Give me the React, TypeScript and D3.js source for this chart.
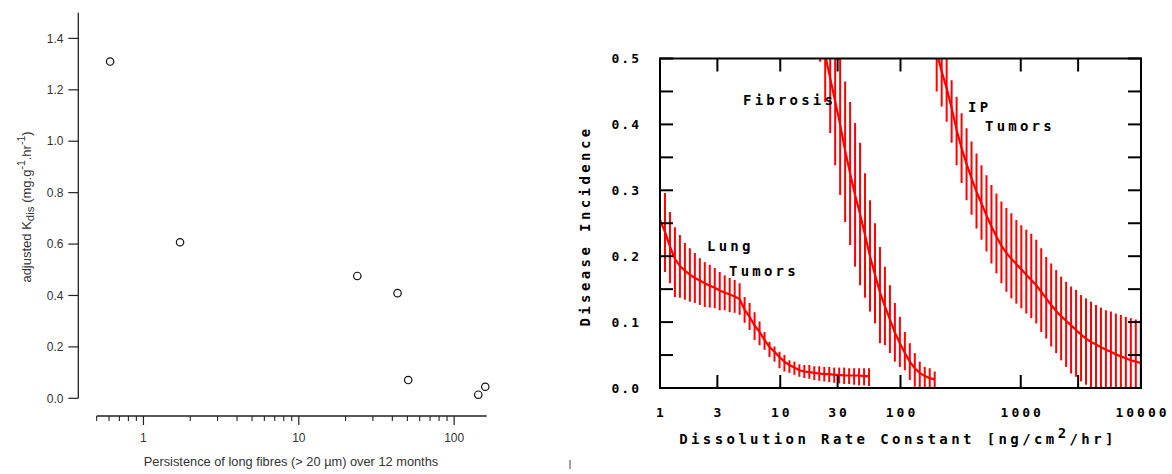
import React from 'react';
import * as d3 from 'd3';

// ---------- Left chart data ----------
const persistence = [0.61, 1.72, 23.8, 43.2, 50.6, 143, 158.6];
const kdis = [1.31, 0.607, 0.476, 0.409, 0.071, 0.014, 0.045];
const leftYTicks = [0, 0.2, 0.4, 0.6, 0.8, 1.0, 1.2, 1.4];
const leftXMajor = [1, 10, 100];
const leftXMinor = [0.5, 0.6, 0.7, 0.8, 0.9, 2, 3, 4, 5, 6, 7, 8, 9, 20, 30, 40, 50, 60, 70, 80, 90];

// ---------- Right chart data ----------
const lungX = [1, 1.1, 1.21, 1.331, 1.464, 1.611, 1.772, 1.949, 2.144, 2.358, 2.594, 2.853, 3.138, 3.452, 3.797, 4.177, 4.595, 5.054, 5.56, 6.116, 6.727, 7.4, 8.14, 8.954, 9.85, 10.83, 11.92, 13.11, 14.42, 15.86, 17.45, 19.19, 21.11, 23.23, 25.55, 28.1, 30.91, 34.0, 37.4, 41.14, 45.26, 49.79, 54.76];
const lungMean = [0.255, 0.237, 0.215, 0.196, 0.185, 0.178, 0.172, 0.167, 0.163, 0.159, 0.155, 0.152, 0.148, 0.145, 0.142, 0.139, 0.135, 0.119, 0.108, 0.095, 0.085, 0.073, 0.062, 0.055, 0.047, 0.04, 0.035, 0.031, 0.027, 0.025, 0.024, 0.023, 0.022, 0.021, 0.021, 0.02, 0.02, 0.019, 0.019, 0.019, 0.019, 0.018, 0.018];
const lungLow = [0.194, 0.176, 0.159, 0.138, 0.137, 0.134, 0.131, 0.129, 0.126, 0.123, 0.122, 0.121, 0.118, 0.118, 0.115, 0.114, 0.111, 0.099, 0.088, 0.073, 0.065, 0.058, 0.047, 0.04, 0.03, 0.025, 0.023, 0.02, 0.017, 0.015, 0.014, 0.012, 0.011, 0.01, 0.009, 0.008, 0.007, 0.006, 0.006, 0.005, 0.004, 0.004, 0.003];
const lungHigh = [0.326, 0.296, 0.267, 0.244, 0.232, 0.22, 0.212, 0.205, 0.197, 0.191, 0.187, 0.182, 0.176, 0.171, 0.167, 0.164, 0.159, 0.138, 0.129, 0.115, 0.101, 0.085, 0.07, 0.063, 0.055, 0.05, 0.042, 0.04, 0.036, 0.035, 0.035, 0.033, 0.033, 0.032, 0.032, 0.031, 0.031, 0.031, 0.03, 0.03, 0.03, 0.03, 0.03];

const fibX = [21.5, 23.65, 26.02, 28.62, 31.48, 34.63, 38.09, 41.9, 46.09, 50.7, 55.77, 61.34, 67.48, 74.23, 81.65, 89.81, 98.8, 108.7, 119.5, 131.5, 144.6, 159.1, 175.0, 192.5];
const fibMean = [0.56, 0.505, 0.47, 0.435, 0.4, 0.36, 0.326, 0.293, 0.264, 0.232, 0.2, 0.172, 0.145, 0.124, 0.104, 0.084, 0.068, 0.053, 0.04, 0.03, 0.023, 0.018, 0.015, 0.013];
const fibLow = [0.495, 0.434, 0.387, 0.338, 0.293, 0.252, 0.217, 0.184, 0.156, 0.137, 0.116, 0.098, 0.068, 0.065, 0.053, 0.04, 0.032, 0.027, 0.012, 0.002, -0.005, -0.01, -0.01, -0.005];
const fibHigh = [0.62, 0.58, 0.555, 0.53, 0.505, 0.465, 0.434, 0.402, 0.372, 0.326, 0.285, 0.25, 0.214, 0.184, 0.156, 0.129, 0.108, 0.085, 0.068, 0.053, 0.04, 0.032, 0.03, 0.025];

const ipX = [200, 220, 242, 266.2, 292.8, 322.1, 354.3, 389.7, 428.7, 471.6, 518.7, 570.6, 627.7, 690.5, 759.5, 835.4, 919.0, 1010.9, 1112.0, 1223.2, 1345.5, 1480.0, 1628.0, 1790.8, 1969.9, 2166.9, 2383.6, 2621.9, 2884.1, 3172.5, 3489.8, 3838.8, 4222.6, 4644.9, 5109.4, 5620.3, 6182.4, 6800.6, 7480.7, 8228.7, 9051.6, 9956.8];
const ipMean = [0.51, 0.48, 0.455, 0.425, 0.392, 0.364, 0.34, 0.318, 0.298, 0.28, 0.262, 0.245, 0.23, 0.216, 0.205, 0.196, 0.188, 0.18, 0.172, 0.164, 0.156, 0.146, 0.136, 0.126, 0.117, 0.109, 0.102, 0.095, 0.088, 0.081, 0.075, 0.07, 0.066, 0.062, 0.058, 0.055, 0.051, 0.048, 0.045, 0.042, 0.04, 0.038];
const ipLow = [0.45, 0.427, 0.404, 0.372, 0.338, 0.311, 0.285, 0.263, 0.242, 0.225, 0.207, 0.189, 0.174, 0.159, 0.146, 0.136, 0.128, 0.121, 0.113, 0.106, 0.098, 0.085, 0.075, 0.063, 0.053, 0.042, 0.032, 0.022, 0.017, 0.01, 0.005, -0.002, -0.006, -0.01, -0.012, -0.014, -0.016, -0.018, -0.02, -0.022, -0.024, -0.026];
const ipHigh = [0.57, 0.54, 0.515, 0.467, 0.442, 0.417, 0.394, 0.374, 0.356, 0.338, 0.323, 0.308, 0.295, 0.283, 0.273, 0.265, 0.255, 0.247, 0.24, 0.234, 0.225, 0.212, 0.199, 0.189, 0.179, 0.169, 0.161, 0.154, 0.149, 0.141, 0.136, 0.131, 0.126, 0.122, 0.118, 0.116, 0.113, 0.111, 0.108, 0.106, 0.104, 0.103];

const rightYTicks = [0, 0.05, 0.1, 0.15, 0.2, 0.25, 0.3, 0.35, 0.4, 0.45, 0.5];
const rightYLabels = [0, 0.1, 0.2, 0.3, 0.4, 0.5];
const rightXTicks = [3, 10, 30, 100, 1000, 3000];
const rightXLabels = [1, 3, 10, 30, 100, 1000, 10000];

const RED = '#ff0000';
const MONO = '"DejaVu Sans Mono", monospace';
const SANS = '"Liberation Sans", Arial, sans-serif';

function Series({ xs, mean, lo, hi, x, y }: any) {
  const line = d3.line<number>().x((_, i) => x(xs[i])).y((d) => y(d));
  return (
    <g>
      {xs.map((v: number, i: number) => (
        <line key={i} x1={x(v)} x2={x(v)} y1={y(lo[i])} y2={y(hi[i])} stroke={RED} strokeWidth={2} />
      ))}
      <path d={line(mean) || ''} fill="none" stroke={RED} strokeWidth={2.2} />
    </g>
  );
}

export default function App() {
  // left chart scales
  const xL = d3.scaleLog().domain([0.5, 162]).range([96.7, 486.7]);
  const yL = d3.scaleLinear().domain([0, 1.5]).range([398.3, 12.7]);
  const axisL = '#222';
  const textL = '#333';

  // right chart scales
  const left = 660, right = 1141, top = 58.5, bottom = 388;
  const xR = d3.scaleLog().domain([1, 10000]).range([left, right]);
  const yR = d3.scaleLinear().domain([0, 0.5]).range([bottom, top]);
  const tl = 13;

  return (
    <div style={{ position: 'absolute', left: 0, top: 0 }}>
      <svg width={1172} height={474} style={{ display: 'block', background: '#fff' }}>
        <defs>
          <clipPath id="plotclip">
            <rect x={left} y={top} width={right - left} height={bottom - top} />
          </clipPath>
        </defs>

        {/* ===== Left chart ===== */}
        <g>
          <line x1={78.3} x2={78.3} y1={yL(1.5)} y2={yL(0)} stroke={axisL} strokeWidth={1.3} />
          {leftYTicks.map((t) => (
            <g key={t}>
              <line x1={68.3} x2={78.3} y1={yL(t)} y2={yL(t)} stroke={axisL} strokeWidth={1.2} />
              <text x={63.5} y={yL(t) + 4.2} textAnchor="end" fontFamily={SANS} fontSize={12} fill={textL}>
                {t.toFixed(1)}
              </text>
            </g>
          ))}
          <text transform="translate(31,207) rotate(-90)" textAnchor="middle" fontFamily={SANS} fontSize={13} fill={textL}>
            adjusted K<tspan fontSize={11.5} dy={3}>dis</tspan>
            <tspan dy={-3}> (mg.g</tspan>
            <tspan fontSize={10.5} dy={-6}>-1</tspan>
            <tspan dy={6}>.hr</tspan>
            <tspan fontSize={10.5} dy={-6}>-1</tspan>
            <tspan dy={6}>)</tspan>
          </text>

          <line x1={xL(0.5)} x2={xL(162)} y1={416} y2={416} stroke={axisL} strokeWidth={1.3} />
          {leftXMinor.map((t) => (
            <line key={t} x1={xL(t)} x2={xL(t)} y1={416} y2={421} stroke={axisL} strokeWidth={1.1} />
          ))}
          {leftXMajor.map((t) => (
            <g key={t}>
              <line x1={xL(t)} x2={xL(t)} y1={416} y2={425} stroke={axisL} strokeWidth={1.2} />
              <text x={xL(t)} y={442} textAnchor="middle" fontFamily={SANS} fontSize={12} fill={textL}>
                {t}
              </text>
            </g>
          ))}
          <text x={291} y={466} textAnchor="middle" fontFamily={SANS} fontSize={12.8} fill={textL}>
            Persistence of long fibres (&gt; 20 µm) over 12 months
          </text>

          {persistence.map((p, i) => (
            <circle key={i} cx={xL(p)} cy={yL(kdis[i])} r={3.7} fill="#fff" stroke="#111" strokeWidth={1.2} />
          ))}
          <line x1={570} x2={570} y1={460} y2={469} stroke="#444" strokeWidth={1} />
        </g>

        {/* ===== Right chart ===== */}
        <g>
          <g clipPath="url(#plotclip)">
            <Series xs={lungX} mean={lungMean} lo={lungLow} hi={lungHigh} x={xR} y={yR} />
            <Series xs={fibX} mean={fibMean} lo={fibLow} hi={fibHigh} x={xR} y={yR} />
            <Series xs={ipX} mean={ipMean} lo={ipLow} hi={ipHigh} x={xR} y={yR} />
          </g>

          <rect x={left} y={top} width={right - left} height={bottom - top} fill="none" stroke="#000" strokeWidth={2} />
          {rightYTicks.map((t) => (
            <g key={t}>
              <line x1={left} x2={left + tl} y1={yR(t)} y2={yR(t)} stroke="#000" strokeWidth={2} />
              <line x1={right - tl} x2={right} y1={yR(t)} y2={yR(t)} stroke="#000" strokeWidth={2} />
            </g>
          ))}
          {rightXTicks.map((t) => (
            <g key={t}>
              <line x1={xR(t)} x2={xR(t)} y1={top} y2={top + tl} stroke="#000" strokeWidth={2} />
              <line x1={xR(t)} x2={xR(t)} y1={bottom - tl} y2={bottom} stroke="#000" strokeWidth={2} />
            </g>
          ))}
          {rightYLabels.map((t) => (
            <text key={t} x={641} y={yR(t) + 4.5} textAnchor="end" fontFamily={MONO} fontWeight="bold" fontSize={13} style={{ letterSpacing: '2px' }} fill="#000">
              {t.toFixed(1)}
            </text>
          ))}
          {rightXLabels.map((t) => (
            <text key={t} x={xR(t) + 1.5} y={417} textAnchor="middle" fontFamily={MONO} fontWeight="bold" fontSize={13} style={{ letterSpacing: '3px' }} fill="#000">
              {t}
            </text>
          ))}
          <text x={898} y={444} textAnchor="middle" fontFamily={MONO} fontWeight="bold" fontSize={14} style={{ letterSpacing: '3.4px' }} fill="#000">
            Dissolution Rate Constant [ng/cm<tspan dy={-6}>2</tspan><tspan dy={6}>/hr]</tspan>
          </text>
          <text transform="translate(590,226) rotate(-90)" textAnchor="middle" fontFamily={MONO} fontWeight="bold" fontSize={14} style={{ letterSpacing: '3.4px' }} fill="#000">
            Disease Incidence
          </text>

          {[
            { t: 'Fibrosis', x: 743, y: 105 },
            { t: 'IP', x: 968, y: 112 },
            { t: 'Tumors', x: 985, y: 131 },
            { t: 'Lung', x: 707, y: 251 },
            { t: 'Tumors', x: 729, y: 276 },
          ].map((l, i) => (
            <text key={i} x={l.x} y={l.y} fontFamily={MONO} fontWeight="bold" fontSize={14} style={{ letterSpacing: '3.2px' }} fill="#000">
              {l.t}
            </text>
          ))}
        </g>
      </svg>
    </div>
  );
}
